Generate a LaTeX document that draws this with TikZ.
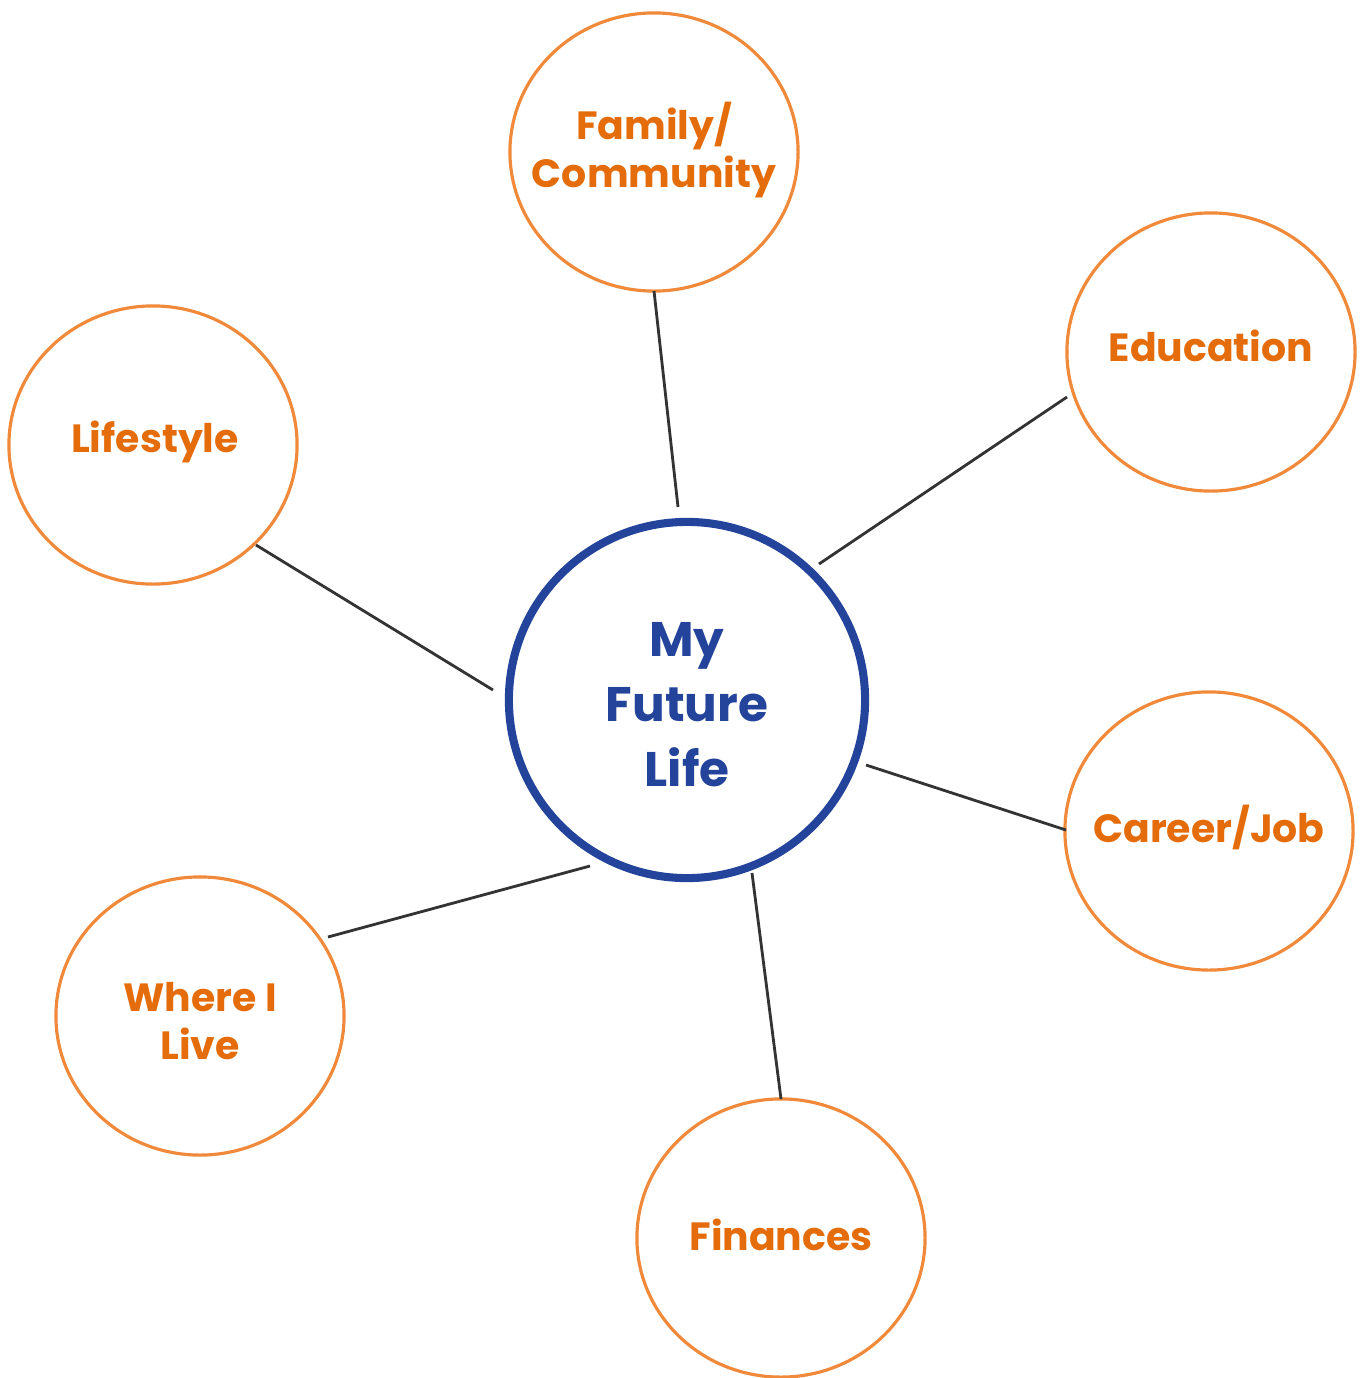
\documentclass[tikz,border=0pt]{standalone}
\usepackage{fontspec}
\setmainfont{Poppins}
\usetikzlibrary{shapes.geometric}
\definecolor{otext}{HTML}{E46C0A}
\definecolor{oline}{HTML}{F0893A}
\definecolor{bluec}{HTML}{23449A}
\definecolor{linec}{HTML}{333333}
\begin{document}
\begin{tikzpicture}[x=0.01cm,y=-0.01cm,
  topic/.style={ellipse,draw=oline,line width=0.9pt,minimum width=2.88cm,minimum height=2.78cm,inner sep=0pt},
  topictext/.style={text=otext,font=\fontsize{11.2}{13.7}\selectfont\bfseries,align=center,inner sep=0pt},
  hub/.style={circle,draw=bluec,line width=2.3pt,minimum size=3.56cm,inner sep=0pt},
  hubtext/.style={text=bluec,font=\fontsize{13.8}{18.5}\selectfont\bfseries,align=center,inner sep=0pt},
  link/.style={draw=linec,line width=0.8pt}]
\useasboundingbox (0,0) rectangle (1362,1378);
\node[hub] (main) at (687,700) {};
\node[hubtext] (mainT) at (687,705) {My\\Future\\Life};
\node[topic] (fam) at (654,152) {};
\node[topictext] (famT) at (654,150) {Family/\\Community};
\node[topic] (edu) at (1211,352) {};
\node[topictext] (eduT) at (1211,346) {Education};
\node[topic] (life) at (153,445) {};
\node[topictext] (lifeT) at (155,442) {Lifestyle};
\node[topic] (car) at (1209,831) {};
\node[topictext] (carT) at (1209,827) {Career/Job};
\node[topic] (where) at (200,1016) {};
\node[topictext] (whereT) at (200,1021) {Where I\\Live};
\node[topic] (fin) at (781,1238) {};
\node[topictext] (finT) at (781,1235) {Finances};
\coordinate (famA) at (654,291); \coordinate (famB) at (678,507);
\coordinate (eduA) at (1067,397); \coordinate (eduB) at (819,564);
\coordinate (lifeA) at (256,545); \coordinate (lifeB) at (493,690);
\coordinate (carA) at (1066,830); \coordinate (carB) at (866,765);
\coordinate (whereA) at (328,937); \coordinate (whereB) at (590,866);
\coordinate (finA) at (781,1099); \coordinate (finB) at (752,873);
\draw[link] (famA) -- (famB);
\draw[link] (eduA) -- (eduB);
\draw[link] (lifeA) -- (lifeB);
\draw[link] (carA) -- (carB);
\draw[link] (whereA) -- (whereB);
\draw[link] (finA) -- (finB);
\end{tikzpicture}
\end{document}
